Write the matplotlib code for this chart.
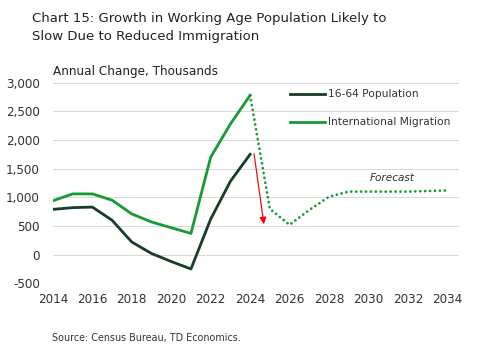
import matplotlib
matplotlib.use("Agg")
import matplotlib.pyplot as plt

years = list(range(2014, 2025))
pop_16_64 = [790, 820, 830, 600, 220, 20, -120, -250, 620, 1280, 1750]
migration = [940, 1060, 1060, 950, 710, 570, 470, 370, 1700, 2280, 2780]

fc_years = list(range(2024, 2035))
fc_migration = [2780, 800, 520, 780, 1010, 1100, 1100, 1100, 1100, 1110, 1120]

arrow_from = (2024.2, 1760)
arrow_to = (2024.7, 530)

dark = "#1b3d26"
green = "#1a9a35"

plt.rcParams['font.family'] = ['DejaVu Sans']

fig = plt.figure(figsize=(7, 355 / 72), dpi=72)
ax = fig.add_axes([0.105, 0.202, 0.806, 0.565])

ax.plot(years, pop_16_64, color=dark, lw=2.8, label='16-64 Population')
ax.plot(years, migration, color=green, lw=2.8, label='International Migration')
ax.plot(fc_years, fc_migration, color=green, lw=2.8, linestyle=(0, (0.01, 1.75)),
        dash_capstyle='round')

ax.annotate('', xy=arrow_to, xytext=arrow_from,
            arrowprops=dict(arrowstyle='-|>', color='red', lw=1.2,
                            mutation_scale=14, shrinkA=0, shrinkB=0))

ax.set_xlim(2014, 2034.6)
ax.set_ylim(-500, 3000)
ax.set_xticks(range(2014, 2035, 2))
ax.set_yticks(range(-500, 3001, 500))
ax.set_yticklabels([f'{v:,}' for v in range(-500, 3001, 500)])
ax.grid(axis='y', color='#d9d9d9', lw=1)
ax.set_axisbelow(True)
for s in ax.spines.values():
    s.set_visible(False)
ax.tick_params(length=0, labelsize=12, colors='#333333')
ax.tick_params(axis='y', pad=13)
ax.tick_params(axis='x', pad=10)

leg = ax.legend(loc='upper left', bbox_to_anchor=(0.56, 1.015), frameon=False,
                fontsize=10.6, handlelength=3.3, handletextpad=0.25, labelspacing=1.7)
for t in leg.get_texts():
    t.set_color('#333333')

ax.text(2031.2, 1330, 'Forecast', fontsize=10.5, style='italic', color='#333333',
        ha='center', va='center')

fig.text(32 / 504, 1 - 27.5 / 355, 'Chart 15: Growth in Working Age Population Likely to\n'
         'Slow Due to Reduced Immigration', fontsize=13.2, color='#222222',
         va='center', linespacing=1.5)
fig.text(53 / 504, 1 - 72 / 355, 'Annual Change, Thousands', fontsize=12,
         color='#222222', va='center')
fig.text(52 / 504, 1 - 338 / 355, 'Source: Census Bureau, TD Economics.', fontsize=9.6,
         color='#333333', va='center')

fig.savefig('out.png', dpi=72)
